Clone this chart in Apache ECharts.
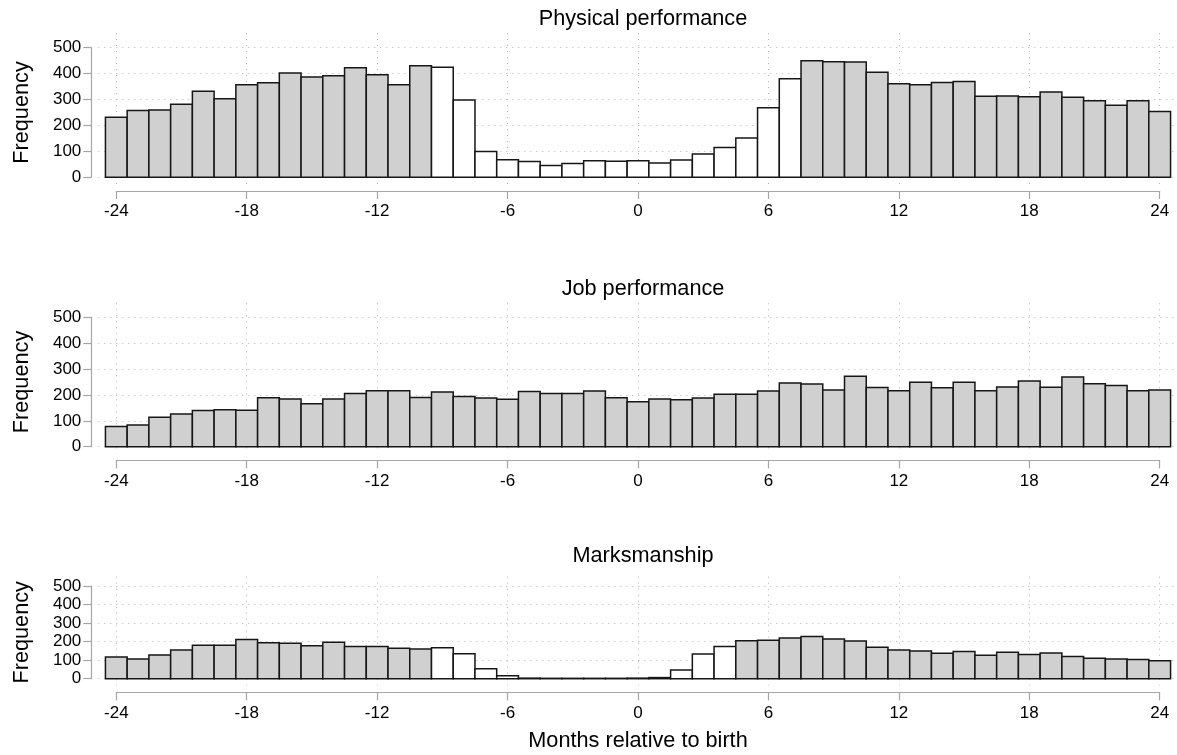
<!DOCTYPE html>
<html>
<head>
<meta charset="utf-8">
<script src="https://cdn.jsdelivr.net/npm/echarts@6/dist/echarts.min.js"></script>
<style>
html,body{margin:0;padding:0;background:#fff;}
#chart{width:1177px;height:755px;}
</style>
</head>
<body>
<div id="chart"></div>
<script>
var months=[-24,-23,-22,-21,-20,-19,-18,-17,-16,-15,-14,-13,-12,-11,-10,-9,-8,-7,-6,-5,-4,-3,-2,-1,
    0,1,2,3,4,5,6,7,8,9,10,11,12,13,14,15,16,17,18,19,20,21,22,23,24];
var monthTicks=[-24,-18,-12,-6,0,6,12,18,24];
var freqTicks=[0,100,200,300,400,500];

var panelTitles=['Physical performance','Job performance','Marksmanship'];

var physical=[232,258,260,282,332,303,357,365,402,387,392,423,396,357,430,425,298,100,68,61,46,53,64,62,
    64,55,67,90,115,152,268,380,450,446,445,405,361,357,366,370,313,314,311,329,309,295,278,295,254];
var job=[78,84,114,126,140,143,141,189,184,166,184,206,216,216,190,211,194,188,183,213,206,206,215,189,
    174,184,181,188,203,203,215,246,242,219,272,229,216,249,228,249,216,231,254,230,269,243,236,216,219];
var marks=[117,106,128,155,180,180,212,194,191,178,196,174,174,164,160,167,135,54,16,3,2,2,2,2,
    3,6,47,133,174,205,207,219,227,214,203,169,155,149,137,147,126,142,130,138,120,110,106,104,97];

// months drawn as hollow bars (first, last); null = none
var hollowRange=[[-9,7],null,[-9,4]];

var seriesValues=[physical,job,marks];

// pixel layout: where month -24 / 24 sit, and each panel's 500 / 0 levels
var X_LEFT=116.3, X_RIGHT=1159.7;
var PLOT_LEFT=98.3, PLOT_RIGHT=1175;
var W=1177, H=755;
var panels=[
    {top:47.7, zero:177.3, plotTop:33,    titleTop:3.5},
    {top:317.3,zero:446.7, plotTop:303.3, titleTop:273},
    {top:586,  zero:678.7, plotTop:576.7, titleTop:540.5}
];

var FONT='Liberation Sans, Arial, Helvetica, sans-serif';
var AXIS_GRAY='#a6a6a6';
var GRID_LINE={show:true,lineStyle:{color:'#b4b4b4',width:1,type:[1,5]}};

var k=(X_RIGHT-X_LEFT)/(monthTicks[monthTicks.length-1]-monthTicks[0]);
var xMinA=monthTicks[0]-(X_LEFT-PLOT_LEFT)/k;
var xMaxA=monthTicks[monthTicks.length-1]+(PLOT_RIGHT-X_RIGHT)/k;

function barData(values,range){
    var out=[];
    for(var i=0;i<months.length;i++){
        var hollow=range&&months[i]>=range[0]&&months[i]<=range[1]?1:0;
        out.push([months[i],values[i],hollow]);
    }
    return out;
}

function renderBar(params,api){
    var m=api.value(0), v=api.value(1);
    var a=api.coord([m-0.5,v]);
    var b=api.coord([m+0.5,0]);
    return {
        type:'rect',
        shape:{x:a[0],y:a[1],width:b[0]-a[0],height:b[1]-a[1]},
        style:{fill:api.value(2)?'#ffffff':'#d0d0d0',stroke:'#161616',lineWidth:1.5}
    };
}

var option={
    backgroundColor:'#fff',
    animation:false,
    textStyle:{fontFamily:FONT,color:'#000'},
    title:[],grid:[],xAxis:[],yAxis:[],series:[]
};

for(var p=0;p<panels.length;p++){
    var P=panels[p];
    var plotBottom=P.zero+6.7;
    var last=(p==panels.length-1);

    option.title.push({
        text:panelTitles[p],
        left:(X_LEFT+X_RIGHT)/2,
        textAlign:'center',
        top:P.titleTop,
        textStyle:{fontFamily:FONT,fontSize:21.7,fontWeight:'normal',color:'#000'}
    });

    // grid A: data + frequency axis
    option.grid.push({left:PLOT_LEFT,right:W-PLOT_RIGHT,top:P.top,height:P.zero-P.top});
    // grid B: month axis + vertical grid lines
    option.grid.push({left:X_LEFT,right:W-X_RIGHT,top:P.plotTop,height:plotBottom-P.plotTop});

    option.xAxis.push({gridIndex:2*p,type:'value',min:xMinA,max:xMaxA,show:false});
    option.xAxis.push({
        gridIndex:2*p+1,type:'value',
        min:monthTicks[0],max:monthTicks[monthTicks.length-1],interval:6,
        offset:7,
        axisLine:{show:true,onZero:false,lineStyle:{color:AXIS_GRAY,width:1.2}},
        axisTick:{show:true,length:8,lineStyle:{color:AXIS_GRAY,width:1.2}},
        axisLabel:{margin:12,fontSize:17,color:'#000',fontFamily:FONT},
        splitLine:GRID_LINE,
        name:last?'Months relative to birth':'',
        nameLocation:'middle',nameGap:38,
        nameTextStyle:{fontSize:21.7,color:'#000',fontFamily:FONT}
    });

    option.yAxis.push({
        gridIndex:2*p,type:'value',
        min:freqTicks[0],max:freqTicks[freqTicks.length-1],interval:100,
        position:'left',offset:7,
        axisLine:{show:true,onZero:false,lineStyle:{color:AXIS_GRAY,width:1.2}},
        axisTick:{show:true,length:8,lineStyle:{color:AXIS_GRAY,width:1.2}},
        axisLabel:{margin:10,fontSize:17,color:'#000',fontFamily:FONT},
        splitLine:GRID_LINE,
        name:'Frequency',nameLocation:'middle',nameGap:58,
        nameTextStyle:{fontSize:21.7,color:'#000',fontFamily:FONT}
    });
    option.yAxis.push({gridIndex:2*p+1,type:'value',min:0,max:1,show:false});

    option.series.push({
        name:panelTitles[p],
        type:'custom',
        xAxisIndex:2*p,yAxisIndex:2*p,
        renderItem:renderBar,
        encode:{x:0,y:1},
        data:barData(seriesValues[p],hollowRange[p])
    });
}

var myChart=echarts.init(document.getElementById('chart'));
myChart.setOption(option);
</script>
</body>
</html>
